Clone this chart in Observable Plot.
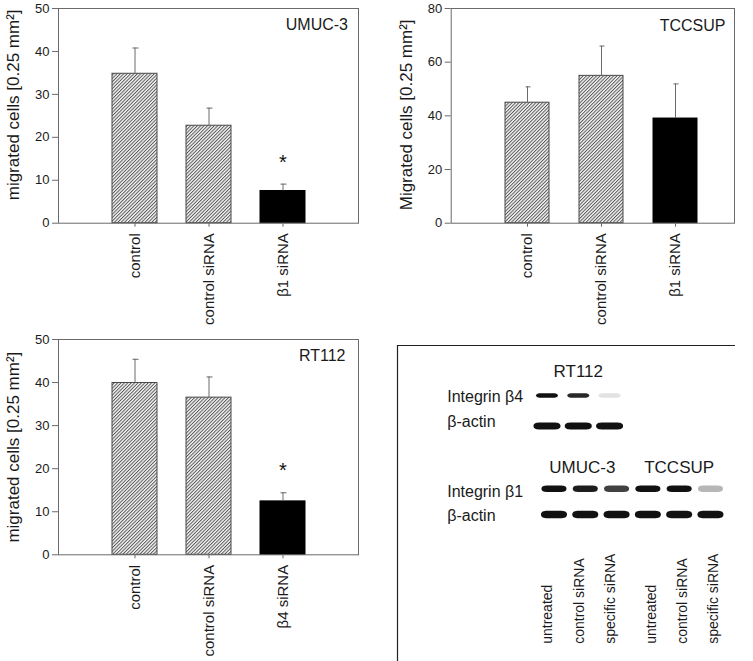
<!DOCTYPE html>
<html><head><meta charset="utf-8">
<script src="https://cdn.jsdelivr.net/npm/d3@7"></script>
<script src="https://cdn.jsdelivr.net/npm/@observablehq/plot@0.6"></script>
<style>
body{margin:0;background:#fff;width:753px;height:661px;position:relative;overflow:hidden;font-family:"Liberation Sans",Arial,sans-serif}
.panel{position:absolute}
</style></head><body>
<svg width="0" height="0" style="position:absolute">
<defs><pattern id="hatch" patternUnits="userSpaceOnUse" width="2.4" height="2.4" patternTransform="rotate(45)">
<rect width="2.4" height="2.4" fill="#f4f4f4"/><line x1="0.5" y1="0" x2="0.5" y2="2.4" stroke="#4a4a4a" stroke-width="0.9"/></pattern></defs></svg>
<div id="p1" class="panel" style="left:0;top:0"></div>
<div id="p2" class="panel" style="left:380px;top:0"></div>
<div id="p3" class="panel" style="left:0;top:320px"></div>
<div id="p4" class="panel" style="left:380px;top:320px"></div>
<script>
// ---- data: migration assays ----
const condB1 = ["control", "control siRNA", "β1 siRNA"];
const condB4 = ["control", "control siRNA", "β4 siRNA"];
const solidBar = [false, false, true];

const umucMean = [34.8, 22.7, 7.5];
const umucErr  = [40.8, 26.8, 9.1];
const umucSig  = [false, false, true];

const tccMean = [44.9, 54.9, 39.0];
const tccErr  = [50.8, 66.0, 51.9];
const tccSig  = [false, false, false];

const rtMean = [39.9, 36.5, 12.4];
const rtErr  = [45.4, 41.3, 14.4];
const rtSig  = [false, false, true];

const ticks50 = [0, 10, 20, 30, 40, 50];
const ticks80 = [0, 20, 40, 60, 80];

// ---- data: western blots ----
const laneIdx = [0, 1, 2, 3, 4, 5];
const laneLabels = ["untreated", "control siRNA", "specific siRNA", "untreated", "control siRNA", "specific siRNA"];
const rt112Beta4 = [1.0, 0.9, 0.12];
const rt112Actin = [1.0, 1.0, 1.0];
const beta1Band  = [1.0, 0.95, 0.8, 1.0, 1.0, 0.3];
const actinBand  = [1.0, 1.0, 1.0, 1.0, 1.0, 1.0];
const rowHeader1 = 0, rowB4 = 0.9, rowActin1 = 2.06, rowHeader2 = 3.63, rowB1 = 4.44, rowActin2 = 5.42;
const rowLabels = ["Integrin β4", "β-actin", "Integrin β1", "β-actin"];
const rowLabelPos = [0.96, 1.91, 4.54, 5.48];

const FONT = '"Liberation Sans", Arial, sans-serif';
const GRAY = "#6a6a6a";

function barPanel(o) {
  const data = o.cats.map((c, i) => ({cat: c, mean: o.mean[i], hi: o.err[i], solid: solidBar[i], sig: o.sig[i]}));
  return Plot.plot({
    width: o.width, height: o.height,
    marginLeft: o.ml, marginRight: o.mr, marginTop: o.mt, marginBottom: o.mb,
    style: {background: "none", overflow: "visible", fontFamily: FONT, color: "#1a1a1a"},
    x: {domain: o.cats, paddingInner: o.pi, paddingOuter: o.po, align: o.align, label: null},
    y: {domain: [0, o.ymax], label: null},
    marks: [
      Plot.barY(data, {x: "cat", y: "mean", fill: d => d.solid ? "#000" : "url(#hatch)", stroke: d => d.solid ? "#000" : "#484848", strokeWidth: 1}),
      Plot.ruleX(data, {x: "cat", y1: "mean", y2: "hi", stroke: GRAY, strokeWidth: 1}),
      Plot.tickY(data, {x: "cat", y: "hi", stroke: GRAY, strokeWidth: 1, insetLeft: 20.5, insetRight: 18.5}),
      Plot.text(data.filter(d => d.sig), {x: "cat", y: "hi", text: () => "*", fontSize: 20, lineAnchor: "middle", dy: -22, fill: "#111"}),
      Plot.frame({stroke: GRAY}),
      Plot.axisY({ticks: o.ticks, tickSize: 6, tickPadding: 3, fontSize: 13, label: null, stroke: GRAY, fill: "#1a1a1a"}),
      Plot.axisX({tickRotate: -90, tickSize: 4, tickPadding: 6, fontSize: 15, label: null, stroke: GRAY, fill: "#1a1a1a"}),
      Plot.text([o.ylabel], {frameAnchor: "left", rotate: -90, lineAnchor: "top", textAnchor: "middle", dx: o.ldx, dy: o.ldy, fontSize: 17, fill: "#1a1a1a"}),
      Plot.text([o.title], {frameAnchor: "top-right", textAnchor: "end", lineAnchor: "middle", dx: o.tdx, dy: o.tdy, fontSize: 16, fill: "#1a1a1a"})
    ]
  });
}

document.getElementById("p1").append(barPanel({
  cats: condB1, mean: umucMean, err: umucErr, sig: umucSig, ymax: 50, ticks: ticks50,
  width: 380, height: 330, ml: 58, mr: 22, mt: 8, mb: 107.3, pi: 0.394, po: 0.72, align: 0.5,
  ylabel: "migrated cells [0.25 mm²]", ldx: -51.8, ldy: -11, title: "UMUC-3", tdx: -10.5, tdy: 16.4
}));

document.getElementById("p2").append(barPanel({
  cats: condB1, mean: tccMean, err: tccErr, sig: tccSig, ymax: 80, ticks: ticks80,
  width: 373, height: 330, ml: 70.7, mr: 19, mt: 8, mb: 107.3, pi: 0.403, po: 0.61, align: 0.592,
  ylabel: "Migrated cells [0.25 mm²]", ldx: -51, ldy: -1, title: "TCCSUP", tdx: -9, tdy: 17.6
}));

document.getElementById("p3").append(barPanel({
  cats: condB4, mean: rtMean, err: rtErr, sig: rtSig, ymax: 50, ticks: ticks50,
  width: 380, height: 341, ml: 58, mr: 22, mt: 19, mb: 106.7, pi: 0.394, po: 0.72, align: 0.5,
  ylabel: "migrated cells [0.25 mm²]", ldx: -51.8, ldy: 0, title: "RT112", tdx: -13, tdy: 15.9
}));

// ---- blot panel ----
function bandSymbol(h) {
  return {
    draw(ctx, size) {
      const w = Math.sqrt(size / Math.PI), k = h / 2;
      ctx.moveTo(-w, 0);
      ctx.bezierCurveTo(-w, -k * 0.8, -0.8 * w, -k, -0.5 * w, -k);
      ctx.lineTo(0.5 * w, -k);
      ctx.bezierCurveTo(0.8 * w, -k, w, -k * 0.8, w, 0);
      ctx.bezierCurveTo(w, k * 0.8, 0.8 * w, k, 0.5 * w, k);
      ctx.lineTo(-0.5 * w, k);
      ctx.bezierCurveTo(-0.8 * w, k, -w, k * 0.8, -w, 0);
      ctx.closePath();
    }
  };
}
const bandsB4 = rt112Beta4.map((v, i) => ({lane: laneIdx[i], row: rowB4, v}));
const bandsA1 = rt112Actin.map((v, i) => ({lane: laneIdx[i], row: rowActin1, v}));
const bandsB1 = beta1Band.map((v, i) => ({lane: laneIdx[i], row: rowB1, v}));
const bandsA2 = actinBand.map((v, i) => ({lane: laneIdx[i], row: rowActin2, v}));
const laneData = laneLabels.map((t, i) => ({lane: laneIdx[i], t, g: i < 3 ? 0 : 1}));
const rowLabelData = rowLabels.map((t, i) => ({t, row: rowLabelPos[i]}));
const xDom = [-5, 5.8], yDom = [-1, 11];

const blot = Plot.plot({
  width: 373, height: 341, marginLeft: 17, marginRight: 18, marginTop: 25, marginBottom: 0,
  style: {background: "none", overflow: "visible", fontFamily: FONT, color: "#1a1a1a"},
  x: {domain: xDom, axis: null},
  y: {domain: yDom, reverse: true, axis: null},
  marks: [
    Plot.ruleY([yDom[0]], {stroke: "#222", strokeWidth: 1.2}),
    Plot.ruleX([xDom[0]], {stroke: "#222", strokeWidth: 1.2}),
    Plot.dot(bandsB4, {x: "lane", y: "row", r: 11, symbol: bandSymbol(4.5), fill: "#111", fillOpacity: "v", stroke: "none", dx: -7}),
    Plot.dot(bandsA1, {x: "lane", y: "row", r: 13.5, symbol: bandSymbol(7), fill: "#111", fillOpacity: "v", stroke: "none", dx: -7}),
    Plot.dot(bandsB1, {x: "lane", y: "row", r: 12.5, symbol: bandSymbol(6.5), fill: "#111", fillOpacity: "v", stroke: "none"}),
    Plot.dot(bandsA2, {x: "lane", y: "row", r: 13, symbol: bandSymbol(7.5), fill: "#111", fillOpacity: "v", stroke: "none"}),
    Plot.text(["RT112"], {x: () => laneIdx[1], y: () => rowHeader1, fontSize: 17, dx: -7, lineAnchor: "middle"}),
    Plot.text(["UMUC-3"], {x: () => laneIdx[1], y: () => rowHeader2, fontSize: 17, dx: -3, lineAnchor: "middle"}),
    Plot.text(["TCCSUP"], {x: () => laneIdx[4], y: () => rowHeader2, fontSize: 17, lineAnchor: "middle"}),
    Plot.text(rowLabelData, {y: "row", text: "t", frameAnchor: "left", textAnchor: "start", lineAnchor: "middle", dx: 49.7, fontSize: 16}),
    Plot.text(laneData.filter(d => d.g === 0), {x: "lane", text: "t", frameAnchor: "bottom", rotate: -90, textAnchor: "start", lineAnchor: "middle", dy: -17.7, dx: -6, fontSize: 14}),
    Plot.text(laneData.filter(d => d.g === 1), {x: "lane", text: "t", frameAnchor: "bottom", rotate: -90, textAnchor: "start", lineAnchor: "middle", dy: -17.7, dx: 3.5, fontSize: 14})
  ]
});
document.getElementById("p4").append(blot);
</script>
</body></html>
